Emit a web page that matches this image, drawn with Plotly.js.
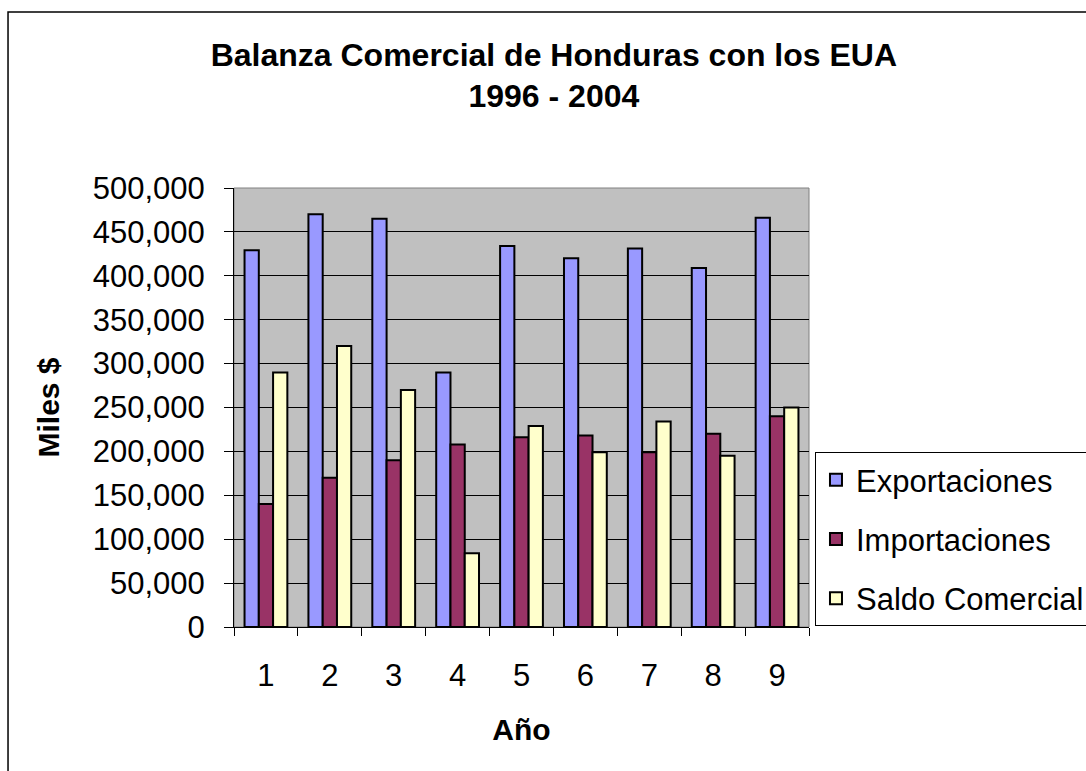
<!DOCTYPE html>
<html>
<head>
<meta charset="utf-8">
<script src="https://cdn.plot.ly/plotly-3.0.1.min.js"></script>
<style>html,body{margin:0;padding:0;background:#fff;overflow:hidden}#chart{width:1086px;height:771px}</style>
</head>
<body>
<div id="chart"></div>
<script>
var years = ['1', '2', '3', '4', '5', '6', '7', '8', '9'];
var exportaciones = [429000, 470000, 465000, 290000, 434000, 420000, 431000, 409000, 466000];
var importaciones = [140000, 170000, 190000, 208000, 216000, 218000, 199000, 220000, 240000];
var saldoComercial = [290000, 320000, 270000, 84000, 229000, 199000, 234000, 195000, 250000];
var seriesNames = ['Exportaciones', 'Importaciones', 'Saldo Comercial'];
var yTickVals = [0, 50000, 100000, 150000, 200000, 250000, 300000, 350000, 400000, 450000, 500000];
var yTickText = ['0', '50,000', '100,000', '150,000', '200,000', '250,000', '300,000', '350,000', '400,000', '450,000', '500,000'];

var F = 'Liberation Sans, Arial, sans-serif';
function mk(name, vals, color, grp) {
  return {type: 'bar', name: name, x: years, y: vals, legendgroup: grp,
    marker: {color: color, line: {color: '#000', width: 2}}, hoverinfo: 'x+y+name'};
}
var data = [
  mk(seriesNames[0], exportaciones, '#9999FF', 'a'),
  mk(seriesNames[1], importaciones, '#993366', 'b'),
  mk(seriesNames[2] + '&nbsp;&nbsp;&nbsp;&nbsp;', saldoComercial, '#FFFFCC', 'c')
];
var layout = {
  width: 1086, height: 771,
  margin: {l: 234, r: 277, t: 188, b: 144, autoexpand: false},
  paper_bgcolor: '#fff', plot_bgcolor: '#C0C0C0',
  font: {family: F, color: '#000', size: 31},
  barmode: 'group', bargap: 0.33, bargroupgap: 0,
  title: {text: '<b>Balanza Comercial de Honduras con los EUA<br>1996 - 2004</b>',
    font: {family: F, size: 32, color: '#000'},
    x: 0.51, xanchor: 'center', xref: 'container', y: 0.915, yanchor: 'top', yref: 'container'},
  xaxis: {type: 'category', tickson: 'boundaries', ticks: 'outside', ticklen: 8, tickcolor: '#000', tickwidth: 1,
    showline: true, linecolor: '#000', linewidth: 1, showgrid: false, zeroline: false,
    ticklabelstandoff: 21, tickfont: {family: F, size: 31}, automargin: false,
    title: {text: '<b>Año</b>', font: {family: F, size: 30}, standoff: 26}},
  yaxis: {range: [0, 500000], tickvals: yTickVals, ticktext: yTickText, ticks: 'outside', ticklen: 9,
    tickcolor: '#000', tickwidth: 1, showline: true, linecolor: '#000', linewidth: 1,
    showgrid: true, gridcolor: '#000', gridwidth: 1, zeroline: false,
    ticklabelstandoff: 13, tickfont: {family: F, size: 31}, automargin: false,
    title: {text: '<b>Miles $</b>', font: {family: F, size: 30}, standoff: 24}},
  legend: {x: 1.0104, xanchor: 'left', y: 0.3986, yanchor: 'top', xref: 'paper', yref: 'paper',
    bordercolor: '#000', borderwidth: 1, bgcolor: '#fff', traceorder: 'grouped', tracegroupgap: 16,
    font: {family: F, size: 31, color: '#000'}},
  shapes: [
    {type: 'rect', xref: 'paper', yref: 'paper', x0: 0, x1: 1, y0: 0, y1: 1, line: {color: '#808080', width: 1}, layer: 'below'},
    {type: 'rect', xref: 'paper', yref: 'paper', x0: -0.393, x1: 1.55, y0: -0.6, y1: 1.401, line: {color: '#000', width: 1.5}}
  ]
};
Plotly.newPlot('chart', data, layout, {displayModeBar: false, staticPlot: true});
</script>
</body>
</html>
